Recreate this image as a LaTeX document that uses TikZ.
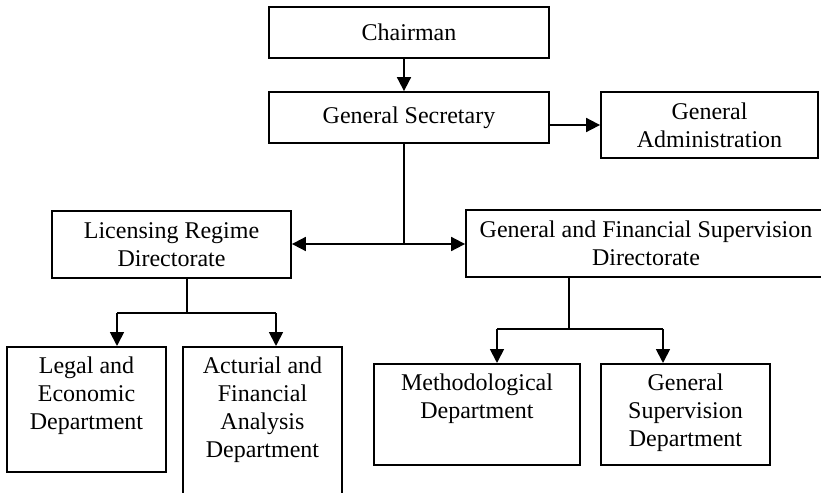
\documentclass[tikz,border=0pt]{standalone}
\usepackage{fontspec}
\setmainfont{Liberation Serif}
\usepackage{tikz}
\usetikzlibrary{arrows.meta}

\begin{document}
\begin{tikzpicture}[x=0.5pt, y=-0.5pt,
  every node/.style={font=\fontsize{12}{14}\selectfont},
  box/.style={draw, line width=0.9pt, inner sep=0pt, align=center},
  dept/.style={draw, line width=0.9pt, inner sep=0pt, anchor=north},
  depttext/.style={anchor=north, align=center, inner sep=5pt},
  link/.style={line width=0.9pt},
  arr/.style={line width=0.9pt, -{Triangle[length=7pt,width=7pt]}}]

\useasboundingbox (0,0) rectangle (821,493);

\node[box, minimum width=140pt, minimum height=25.5pt] (chair)  at (409,32.5)  {Chairman};
\node[box, minimum width=140pt, minimum height=25.5pt] (gensec) at (409,117.5) {General Secretary};
\node[box, minimum width=108.5pt, minimum height=33pt] (genadm) at (709.5,125) {General\\Administration};
\node[box, minimum width=119.5pt, minimum height=33.5pt] (lic)  at (171.5,244.5) {Licensing Regime\\Directorate};
\node[box, minimum width=180pt, minimum height=33.5pt] (gfs)    at (646,243.5) {General and Financial Supervision\\Directorate};

% departments
\node[dept, minimum width=79.5pt, minimum height=62.5pt] (legal) at (86.5,346) {};
\node[depttext] (legal-t) at (legal.north) {Legal and\\Economic\\Department};
\node[dept, minimum width=79.5pt, minimum height=82pt] (act) at (262.5,346) {};
\node[depttext] (act-t) at (act.north) {Acturial and\\Financial\\Analysis\\Department};
\node[dept, minimum width=103pt, minimum height=50.5pt] (meth) at (477,363) {};
\node[depttext] (meth-t) at (meth.north) {Methodological\\Department};
\node[dept, minimum width=84.5pt, minimum height=50.5pt] (gsd) at (685.5,363) {};
\node[depttext] (gsd-t) at (gsd.north) {General\\Supervision\\Department};

% branch points
\coordinate (trunk) at (404,244);
\coordinate (licfork) at (187,313);
\coordinate (gfsfork) at (569,329);

\draw[arr] (chair.south -| trunk) -- (gensec.north -| trunk);
\draw[arr] (gensec.east |- genadm.west) -- (genadm.west);
\draw[link] (gensec.south -| trunk) -- (trunk);
\draw[arr, {Triangle[length=7pt,width=7pt]}-{Triangle[length=7pt,width=7pt]}] (lic.east |- trunk) -- (gfs.west |- trunk);

% Licensing -> departments
\draw[link] (lic.south -| licfork) -- (licfork);
\draw[arr] (117,313) -- (117,313 |- legal.north);
\draw[arr] (276,313) -- (276,313 |- act.north);
\draw[link] (117,313) -- (276,313);

% Supervision -> departments
\draw[link] (gfs.south -| gfsfork) -- (gfsfork);
\draw[link] (497,329) -- (663,329);
\draw[arr] (497,329) -- (497,329 |- meth.north);
\draw[arr] (663,329) -- (663,329 |- gsd.north);

\end{tikzpicture}
\end{document}
